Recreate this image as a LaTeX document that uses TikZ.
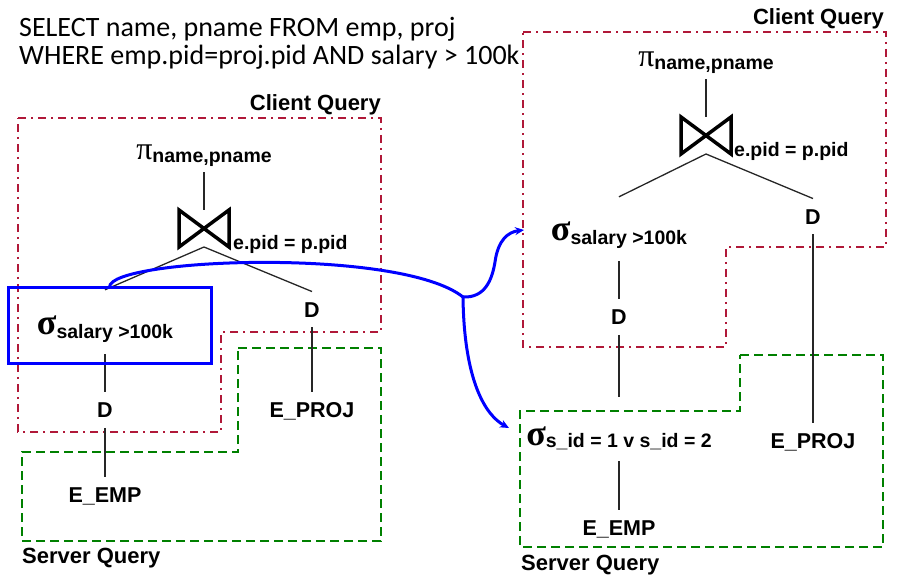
\documentclass[tikz,border=0pt]{standalone}
\usepackage{fontspec}
\setmainfont{Liberation Sans}
\newfontfamily\sqlfont{Carlito}
\newfontfamily\grkfont{Liberation Serif}
\usetikzlibrary{arrows.meta}
\definecolor{cq}{RGB}{176,24,56}
\definecolor{sq}{RGB}{0,128,0}
\definecolor{hb}{RGB}{0,0,255}
\newcommand\subtxt[1]{{\fontsize{19.5}{22}\selectfont\bfseries #1}}
\newcommand\bigsig{{\grkfont\bfseries\fontsize{36}{36}\selectfont σ}}
\newcommand\bigpi{{\grkfont\fontsize{32}{32}\selectfont π}}
\begin{document}
\begin{tikzpicture}[x=1pt,y=-1pt,
  lbl/.style={font=\fontsize{21.5}{24}\selectfont\bfseries, text height=15.5pt, text depth=0pt, inner xsep=2pt, inner ysep=10pt},
  ttl/.style={font=\fontsize{22}{26}\selectfont\bfseries, inner sep=0pt},
  sel/.style={inner xsep=2pt, inner ysep=0pt, anchor=base},
  proj/.style={inner xsep=2pt, inner ysep=0pt, anchor=base, text height=20pt, text depth=12pt},
  joinbox/.style={minimum width=46pt, minimum height=33pt, inner sep=0pt, outer sep=2pt},
  edge/.style={draw=black!85, line width=1.3pt},
  client/.style={draw=cq, line width=2pt, dash pattern=on 8pt off 5pt on 2pt off 5pt},
  server/.style={draw=sq, line width=2pt, dash pattern=on 9pt off 5pt},
  move/.style={draw=hb, line width=3pt},
  tip/.style={-{Stealth[length=9pt,width=8pt]}},
  sqltxt/.style={anchor=base west, inner sep=0pt, font=\sqlfont\fontsize{28}{28}\selectfont}
]
\useasboundingbox (0,0) rectangle (899,577);

% SQL text
\node[sqltxt] (sql1) at (19,37) {SELECT name, pname FROM emp, proj};
\node[sqltxt] (sql2) at (19,65) {WHERE emp.pid=proj.pid AND salary > 100k};

% region boxes
\draw[client] (18,118) -- (381,118) -- (381,332) -- (221,332) -- (221,432) -- (18,432) -- cycle;
\draw[server] (238,348) -- (381,348) -- (381,541) -- (22,541) -- (22,452) -- (238,452) -- cycle;
\draw[client] (523,32) -- (886,32) -- (886,247) -- (726,247) -- (726,347) -- (523,347) -- cycle;
\draw[server] (740,355) -- (883,355) -- (883,547) -- (520,547) -- (520,411) -- (740,411) -- cycle;

\node[ttl, anchor=base east] (cql) at (381,111) {Client Query};
\node[ttl, anchor=base west] (sql) at (22,563) {Server Query};
\node[ttl, anchor=base east] (cqr) at (884,25) {Client Query};
\node[ttl, anchor=base west] (sqr) at (521,570) {Server Query};

% left tree
\node[proj] (p1) at (204,160) {\bigpi\raisebox{-3pt}{\subtxt{name,pname}}};
\node[joinbox] (j1) at (204,228.5) {};
\draw[line width=3.5pt] (j1.north west) -- (j1.south west) -- (j1.north east) -- (j1.south east) -- cycle;
\node[anchor=base west, inner sep=0pt] (j1s) at (233,250) {\subtxt{e.pid = p.pid}};
\node[sel, text height=44pt, text depth=20pt] (s1) at (105,334) {\bigsig\raisebox{-4pt}{\subtxt{salary >100k}}};
\node[lbl] (d1r) at (312,309.5) {D};
\node[lbl] (e1p) at (312,410) {E\_PROJ};
\node[lbl] (d1l) at (105,410) {D};
\node[lbl] (e1e) at (105,495) {E\_EMP};
\draw[edge] (p1.south) -- (j1.north);
\draw[edge] (j1.south) -- (s1.north);
\draw[edge] (j1.south) -- (d1r.north);
\draw[edge] (d1r.south) -- (e1p.north);
\draw[edge] (s1.south) -- (d1l.north);
\draw[edge] (d1l.south) -- (e1e.north);

% right tree
\node[proj] (p2) at (706,67) {\bigpi\raisebox{-3pt}{\subtxt{name,pname}}};
\node[joinbox] (j2) at (706,135.5) {};
\draw[line width=3.5pt] (j2.north west) -- (j2.south west) -- (j2.north east) -- (j2.south east) -- cycle;
\node[anchor=base west, inner sep=0pt] (j2s) at (734,157) {\subtxt{e.pid = p.pid}};
\node[sel, text height=44pt, text depth=20pt] (s2) at (619,241) {\bigsig\raisebox{-4pt}{\subtxt{salary >100k}}};
\node[lbl] (d2r) at (813,216.5) {D};
\node[lbl] (e2p) at (813,441) {E\_PROJ};
\node[lbl] (d2l) at (619,317) {D};
\node[sel, text height=48pt, text depth=16pt] (s3) at (619,445) {\bigsig\raisebox{-2pt}{\subtxt{s\_id = 1 v s\_id = 2}}};
\node[lbl] (e2e) at (619,527.5) {E\_EMP};
\draw[edge] (p2.south) -- (j2.north);
\draw[edge] (j2.south) -- (s2.north);
\draw[edge] (j2.south) -- (d2r.north);
\draw[edge] (d2r.south) -- (e2p.north);
\draw[edge] (s2.south) -- (d2l.north);
\draw[edge] (d2l.south) -- (s3.north);
\draw[edge] (s3.south) -- (e2e.north);

% highlighted operator and its move
\node[draw=hb, line width=3pt, minimum width=203pt, minimum height=76pt, inner sep=0pt, outer sep=0pt] (hl) at (109.5,325) {};
\coordinate (br) at (463,297);
\coordinate (tipA) at (524,230);
\coordinate (tipB) at (509,428);
\draw[move] (hl.north) .. controls (110,258) and (400,247) .. (br);
\draw[move,tip] (br) .. controls (485,298) and (492,280) .. (495,262) .. controls (498,240) and (508,232) .. (tipA);
\draw[move,tip] (br) .. controls (464,380) and (485,415) .. (tipB);
\end{tikzpicture}
\end{document}
